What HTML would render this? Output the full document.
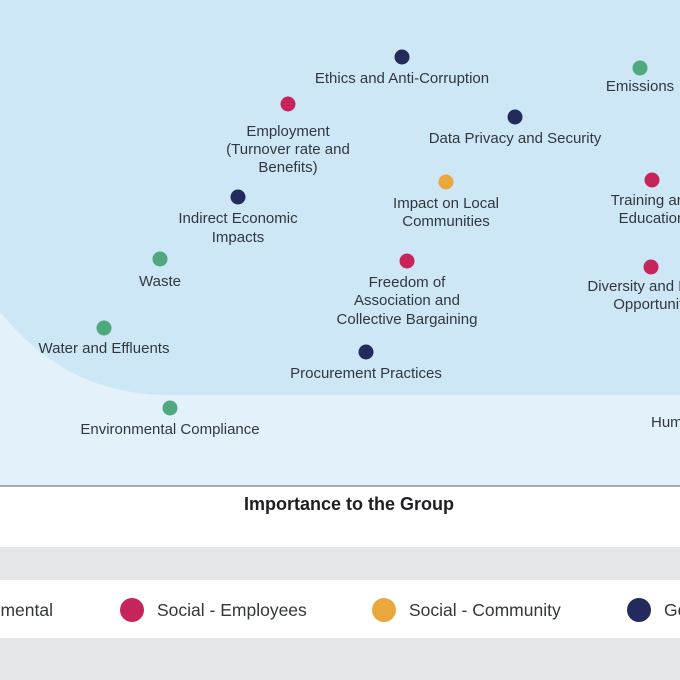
<!DOCTYPE html>
<html><head><meta charset="utf-8"><style>
html,body{margin:0;padding:0;width:680px;height:680px;overflow:hidden;background:#fff}
svg{display:block}
text{font-family:"Liberation Sans",sans-serif;font-size:15px;fill:#33373d;text-anchor:middle}
</style></head><body>
<svg width="680" height="680" viewBox="0 0 680 680">
<rect x="0" y="0" width="680" height="486" fill="#e3f1fb"/>
<path d="M0,0 H680 V395 H170 C90,395 40,360 0,312 Z" fill="#cde7f6"/>
<rect x="0" y="485" width="680" height="2" fill="#a9adb3"/>
<rect x="0" y="547" width="680" height="33" fill="#e5e6e8"/>
<rect x="0" y="638" width="680" height="42" fill="#e5e6e8"/>
<text x="349" y="510" style="font-weight:bold;font-size:18px;fill:#1e1f22">Importance to the Group</text>
<g>
<circle cx="402" cy="57" r="7.5" fill="#232b5c"/><text x="402" y="83">Ethics and Anti-Corruption</text>
<circle cx="640" cy="68" r="7.5" fill="#4fa880"/><text x="640" y="91">Emissions</text>
<circle cx="288" cy="104" r="7.5" fill="#c5255a"/><text x="288" y="136">Employment</text><text x="288" y="154">(Turnover rate and</text><text x="288" y="172">Benefits)</text>
<circle cx="515" cy="117" r="7.5" fill="#232b5c"/><text x="515" y="143">Data Privacy and Security</text>
<circle cx="446" cy="182" r="7.5" fill="#e9a83e"/><text x="446" y="208">Impact on Local</text><text x="446" y="226">Communities</text>
<circle cx="652" cy="180" r="7.5" fill="#c5255a"/><text x="652" y="205">Training and</text><text x="652" y="223">Education</text>
<circle cx="238" cy="197" r="7.5" fill="#232b5c"/><text x="238" y="223">Indirect Economic</text><text x="238" y="242">Impacts</text>
<circle cx="160" cy="259" r="7.5" fill="#4fa880"/><text x="160" y="286">Waste</text>
<circle cx="407" cy="261" r="7.5" fill="#c5255a"/><text x="407" y="287">Freedom of</text><text x="407" y="305">Association and</text><text x="407" y="324">Collective Bargaining</text>
<circle cx="651" cy="267" r="7.5" fill="#c5255a"/><text x="652" y="291">Diversity and Equal</text><text x="652" y="309">Opportunity</text>
<circle cx="104" cy="328" r="7.5" fill="#4fa880"/><text x="104" y="353">Water and Effluents</text>
<circle cx="366" cy="352" r="7.5" fill="#232b5c"/><text x="366" y="378">Procurement Practices</text>
<circle cx="170" cy="408" r="7.5" fill="#4fa880"/><text x="170" y="434">Environmental Compliance</text>
<text x="651" y="427" style="text-anchor:start">Human Rights</text>
</g>
<g>
<text x="53" y="616" style="text-anchor:end;font-size:17.5px">Environmental</text>
<circle cx="132" cy="610" r="12" fill="#c5255a"/><text x="157" y="616" style="text-anchor:start;font-size:17.5px">Social - Employees</text>
<circle cx="384" cy="610" r="12" fill="#e9a83e"/><text x="409" y="616" style="text-anchor:start;font-size:17.5px">Social - Community</text>
<circle cx="639" cy="610" r="12" fill="#232b5c"/><text x="664" y="616" style="text-anchor:start;font-size:17.5px">Governance</text>
</g>
</svg>
</body></html>
